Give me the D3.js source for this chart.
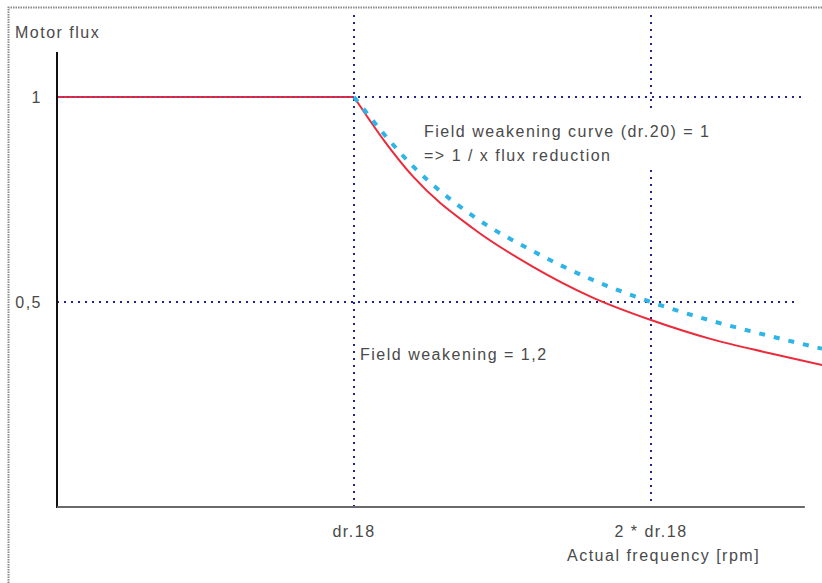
<!DOCTYPE html>
<html>
<head>
<meta charset="utf-8">
<script src="https://cdn.jsdelivr.net/npm/d3@7"></script>
<style>
  html, body { margin: 0; padding: 0; background: #fff; }
  svg { display: block; }
  text { font-family: "Liberation Sans", Arial, sans-serif; fill: #4a4a4a; font-size: 16px; letter-spacing: 1.5px; }
</style>
</head>
<body>
<svg id="chart" width="822" height="583"></svg>
<script>
// ---- data (x in units of dr.18, y = motor flux) ----
const yTicks = [1, 0.5];
const yTickLabels = ["1", "0,5"];
const xTicks = [1, 2];
const xTickLabels = ["dr.18", "2 * dr.18"];

// Field weakening = 1,2 (red solid)
const redX = [0, 1, 1.1, 1.2, 1.4, 1.6, 1.8, 2.0, 2.2, 2.4, 2.576];
const redY = [1, 1, 0.895, 0.805, 0.68, 0.587, 0.512, 0.456, 0.41, 0.375, 0.346];

// Field weakening curve (dr.20) = 1 => 1/x (blue dashed)
const blueX = [1, 1.2, 1.4, 1.6, 1.8, 2.0, 2.2, 2.4, 2.576];
const blueY = [1, 0.83, 0.71, 0.625, 0.555, 0.5, 0.455, 0.417, 0.386];

const svg = d3.select("#chart");
const x = d3.scaleLinear().domain([0, 1]).range([57, 354]);
const y = d3.scaleLinear().domain([0, 1]).range([507, 97]);
const xMax = 2.518; // axis end

// outer dotted frame
svg.append("path")
  .attr("d", "M8.5,583 L8.5,7.5 L822,7.5")
  .attr("fill", "none").attr("stroke", "#8a8a8a").attr("stroke-width", 2)
  .attr("stroke-dasharray", "1.5,1");

// guide lines (navy dotted)
const guide = svg.append("g").attr("stroke", "#23238f").attr("stroke-width", 2)
  .attr("stroke-dasharray", "2,5").attr("fill", "none");
guide.append("line").attr("x1", x(0)).attr("x2", x(xMax) - 3).attr("y1", y(1)).attr("y2", y(1));
guide.append("line").attr("x1", x(0)).attr("x2", x(xMax) - 6).attr("y1", y(0.5)).attr("y2", y(0.5));
guide.append("line").attr("x1", x(1)).attr("x2", x(1)).attr("y1", 15).attr("y2", y(0));
guide.append("line").attr("x1", x(2)).attr("x2", x(2)).attr("y1", 15).attr("y2", 112);
guide.append("line").attr("x1", x(2)).attr("x2", x(2)).attr("y1", 170).attr("y2", y(0));

// curves: flat part and weakening part drawn separately to keep the corner sharp
const redPts = redX.map((v, i) => [v, redY[i]]);
const flat = redPts.filter(d => d[0] <= 1);
const weak = redPts.filter(d => d[0] >= 1);
const lineLin = d3.line().x(d => x(d[0])).y(d => y(d[1]));
const lineGen = d3.line().x(d => x(d[0])).y(d => y(d[1])).curve(d3.curveMonotoneX);
svg.append("path").datum(flat).attr("d", lineLin)
  .attr("fill", "none").attr("stroke", "#ec2a3a").attr("stroke-width", 2);
svg.append("path").datum(weak).attr("d", lineGen)
  .attr("fill", "none").attr("stroke", "#ec2a3a").attr("stroke-width", 2);
svg.append("path")
  .datum(blueX.map((v, i) => [v, blueY[i]]))
  .attr("d", lineGen)
  .attr("fill", "none").attr("stroke", "#2eb4e6").attr("stroke-width", 4)
  .attr("stroke-dasharray", "6,9");

// redraw dotted over the flat red segment
svg.append("line").attr("x1", x(0)).attr("x2", x(1)).attr("y1", y(1)).attr("y2", y(1))
  .attr("stroke", "#5a3aa0").attr("stroke-width", 1).attr("stroke-dasharray", "2,3");

// axes
svg.append("line").attr("x1", x(0)).attr("x2", x(0)).attr("y1", 52).attr("y2", y(0) + 1)
  .attr("stroke", "#111").attr("stroke-width", 2);
svg.append("line").attr("x1", x(0)).attr("x2", x(xMax)).attr("y1", y(0)).attr("y2", y(0))
  .attr("stroke", "#6a6a6a").attr("stroke-width", 2);

// tick labels
svg.selectAll(".yt").data(yTicks).enter().append("text")
  .attr("x", 42).attr("y", d => y(d) + 6).attr("text-anchor", "end")
  .text((d, i) => yTickLabels[i]);
svg.selectAll(".xt").data(xTicks).enter().append("text")
  .attr("x", d => x(d)).attr("y", 537).attr("text-anchor", "middle")
  .text((d, i) => xTickLabels[i]);

// titles
svg.append("text").attr("x", 15).attr("y", 38).text("Motor flux");
svg.append("text").attr("x", 567).attr("y", 561).text("Actual frequency [rpm]");

// annotations
svg.append("text").attr("x", 424).attr("y", 137).text("Field weakening curve (dr.20) = 1");
svg.append("text").attr("x", 424).attr("y", 161).text("=> 1 / x flux reduction");
svg.append("text").attr("x", 360).attr("y", 360).text("Field weakening = 1,2");
</script>
</body>
</html>
